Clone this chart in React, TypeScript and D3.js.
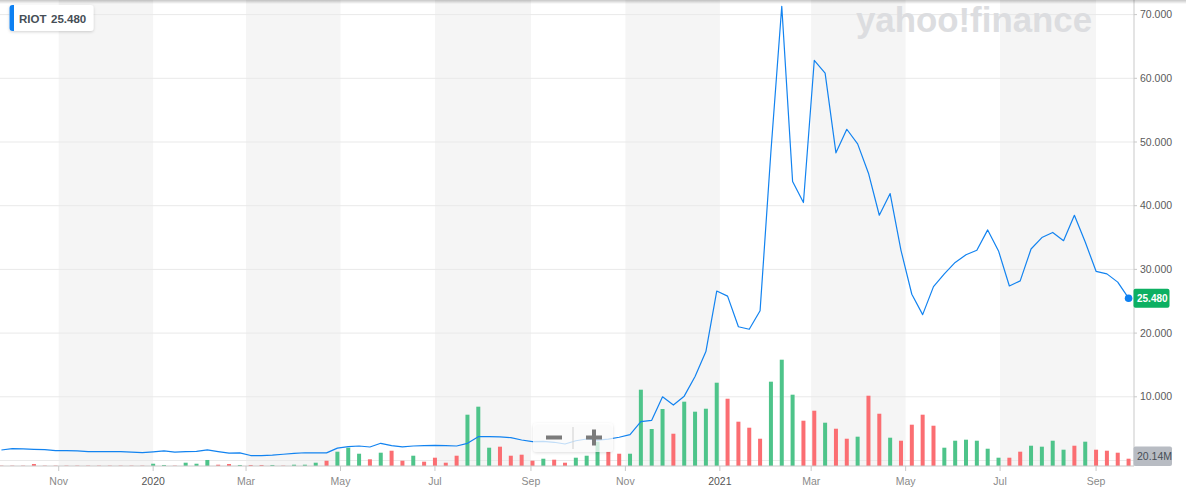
import React from "react";
import * as d3 from "d3";

const W = 1186;
const H = 497;
const plotRight = 1134;
const axisY = 466;
const font = "'Liberation Sans', Arial, sans-serif";

// weekly data, first week
const firstWeek = "2019-09-25";

// weekly close (USD)
const closes = [
  1.65, 1.85, 1.82, 1.76, 1.7, 1.56, 1.54, 1.5, 1.4, 1.38, 1.38, 1.38, 1.3, 1.24,
  1.36, 1.5, 1.3, 1.38, 1.42, 1.68, 1.4, 1.15, 1.2, 0.78, 0.76, 0.85, 0.98, 1.12,
  1.22, 1.2, 1.2, 1.95, 2.17, 2.28, 2.12, 2.7, 2.33, 2.15, 2.28, 2.33, 2.38, 2.33,
  2.28, 2.7, 3.74, 3.74, 3.7, 3.58, 3.22, 2.95, 3.0, 2.86, 2.59, 3.1, 3.38,
  3.2, 3.35, 3.65, 4.05, 6.1, 6.3, 10.0, 8.7, 10.1, 13.2, 17.1, 26.6, 25.8, 21.0,
  20.6, 23.5, 48.5, 71.3, 43.8, 40.5, 62.8, 60.8, 48.3, 52.0, 49.7, 45.1, 38.5, 41.9,
  33.0, 26.1, 22.9, 27.3, 29.3, 31.1, 32.3, 33.0, 36.2, 32.9, 27.4, 28.2, 33.2,
  35.0, 35.8, 34.5, 38.5, 34.3, 29.7, 29.3, 28.0, 25.48,
];

// weekly volume (millions)
const volumes = [
  1, 1, 1, 5.5, 1, 1, 1, 1, 1, 1, 1, 1, 1, 1,
  6.3, 2.8, 1, 9.1, 6.3, 16.6, 3.6, 5.5, 2.8, 2.8, 2.8, 2.8, 1, 3.6, 3.6, 9.1,
  14.6, 39.5, 50.5, 33.9, 18.5, 36.7, 42.2, 14.6, 28.4, 11.9, 22.9, 9.1, 28.4,
  141.6, 163.7, 50.5, 53.3, 28.4, 31.2, 14.6, 20.1, 17.4, 9.1, 22.9, 28.4,
  67.1, 39.5, 33.9, 33.9, 210.6, 102.1, 157.3, 89.1, 177.5, 149.9, 158.1, 229.9,
  185.7, 122.3, 105.7, 75.3, 232.7, 293.4, 196.8, 125, 152.6, 119.5, 102.9, 75.3,
  80.9, 194, 144.3,
  78.1, 69.8, 114, 141.6, 111.2, 50.5, 69.8, 72.6, 69.8, 47.7, 22.9, 22.9,
  39.5, 56, 53.3, 69.8, 45, 56, 67.1, 45, 42.2, 36.7, 20.14,
];

// u = up week, d = down week
const moves =
  "dddddddddddddd" +
  "uuduuuddudduduuu" +
  "duuududdudddd" +
  "uuuddddudduu" +
  "udduuuuduuuu" +
  "dddduuudduddudd" +
  "udddduuuuuudd" +
  "uuuududdddd";

const monthTicks = [
  "2019-11-01", "2020-01-01", "2020-03-01", "2020-05-01", "2020-07-01", "2020-09-01",
  "2020-11-01", "2021-01-01", "2021-03-01", "2021-05-01", "2021-07-01", "2021-09-01",
];
const monthLabels = ["Nov", "2020", "Mar", "May", "Jul", "Sep", "Nov", "2021", "Mar", "May", "Jul", "Sep"];
const priceTicks = [0, 10, 20, 30, 40, 50, 60, 70];

const App = () => {
  const start = new Date(firstWeek + "T00:00:00Z");
  const dates = closes.map((_, i) => d3.utcDay.offset(start, 7 * i));
  const ticks = monthTicks.map((s) => new Date(s + "T00:00:00Z"));

  const x = d3
    .scaleUtc()
    .domain([new Date("2019-09-24T02:00:00Z"), new Date("2021-09-25T12:00:00Z")])
    .range([0, plotRight]);
  const y = d3.scaleLinear().domain([0, 70]).range([460.5, 14.6]);
  const yVol = d3.scaleLinear().domain([0, 300]).range([axisY, axisY - 300 / 2.76]);

  const line = d3
    .line<number>()
    .x((_, i) => x(dates[i]))
    .y((d) => y(d));

  const last = closes.length - 1;
  const lastX = x(dates[last]);
  const lastY = y(closes[last]);

  return (
    <svg width={W} height={H} style={{ position: "absolute", left: 0, top: 0 }} fontFamily={font}>
      <defs>
        <linearGradient id="topShade" x1="0" y1="0" x2="0" y2="1">
          <stop offset="0" stopColor="#000" stopOpacity={0.22} />
          <stop offset="1" stopColor="#000" stopOpacity={0} />
        </linearGradient>
        <filter id="shadow" x="-20%" y="-40%" width="140%" height="180%">
          <feDropShadow dx="0" dy="1" stdDeviation="1.5" floodColor="#000" floodOpacity={0.18} />
        </filter>
      </defs>
      <rect width={W} height={H} fill="#fff" />

      {/* alternating month bands */}
      {ticks.map((t, i) =>
        i % 2 === 0 && ticks[i + 1] ? (
          <rect key={"b" + i} x={x(t)} y={0} width={x(ticks[i + 1]) - x(t)} height={axisY} fill="#f5f5f5" />
        ) : null
      )}

      {/* grid */}
      {priceTicks.map((p) => (
        <line key={"g" + p} x1={0} x2={plotRight} y1={y(p)} y2={y(p)} stroke="#e9e9e9" strokeWidth={1} />
      ))}

      {/* watermark */}
      <text x={856} y={32} fontSize={35} fontWeight={700} fill="#dcdde0" textLength={236} lengthAdjust="spacingAndGlyphs">
        yahoo!finance
      </text>

      {/* volume */}
      {volumes.map((v, i) => (
        <rect
          key={"v" + i}
          x={x(dates[i]) - 2}
          y={yVol(v)}
          width={4}
          height={axisY - yVol(v)}
          fill={moves[i] === "u" ? "#4ec48a" : "#fb6e72"}
        />
      ))}

      {/* price line */}
      <path d={line(closes) ?? ""} fill="none" stroke="#1283f0" strokeWidth={1.2} strokeLinejoin="round" />
      <circle cx={lastX} cy={lastY} r={3.8} fill="#0d80f2" />

      {/* axes */}
      <line x1={0} x2={plotRight} y1={axisY} y2={axisY} stroke="#c9c9c9" />
      <line x1={plotRight} x2={plotRight} y1={0} y2={axisY} stroke="#c9c9c9" />
      {ticks.map((t, i) => (
        <g key={"t" + i} transform={`translate(${x(t)},0)`}>
          <line y1={axisY} y2={axisY + 5} stroke="#c9c9c9" />
          <text
            y={485}
            textAnchor="middle"
            fontSize={10.5}
            fill={monthLabels[i].length === 4 ? "#555" : "#8a8a8a"}
          >
            {monthLabels[i]}
          </text>
        </g>
      ))}
      {priceTicks
        .filter((p) => p > 0)
        .map((p) => (
          <g key={"p" + p} transform={`translate(${plotRight},${y(p)})`}>
            <line x1={0} x2={3} stroke="#c9c9c9" />
            <text x={6} y={3.6} fontSize={10.5} fill="#5b5b5b">
              {d3.format(".3f")(p)}
            </text>
          </g>
        ))}

      {/* last price tag */}
      <rect x={plotRight - 0.5} y={lastY - 9.5} width={36} height={19} rx={2} fill="#0cb062" />
      <text x={plotRight + 3} y={lastY + 3.8} fontSize={10} fontWeight={700} fill="#fff">
        {d3.format(".3f")(closes[last])}
      </text>

      {/* last volume tag */}
      <rect x={plotRight - 0.5} y={446.5} width={38.5} height={19.5} rx={2} fill="#b8bcc3" />
      <text x={plotRight + 3} y={460} fontSize={10.5} fill="#464e56">
        {d3.format(".2f")(volumes[last]) + "M"}
      </text>

      {/* zoom control */}
      <g filter="url(#shadow)">
        <rect x={533} y={423} width={80} height={29} rx={4} fill="#fff" fillOpacity={0.72} />
      </g>
      <line x1={573} x2={573} y1={427} y2={449} stroke="#cfcfcf" />
      <rect x={546} y={435.5} width={16} height={4} fill="#7b7b7b" />
      <rect x={586} y={435.5} width={16} height={4} fill="#7b7b7b" />
      <rect x={592} y={429.5} width={4} height={16} fill="#7b7b7b" />

      {/* top shadow */}
      <rect x={0} y={0} width={W} height={4} fill="url(#topShade)" />

      {/* symbol legend */}
      <g filter="url(#shadow)">
        <rect x={9.5} y={5} width={84} height={26} rx={3} fill="#fff" />
      </g>
      <path d="M12.5,5 h1.5 v26 h-1.5 a3,3 0 0 1 -3,-3 v-20 a3,3 0 0 1 3,-3 z" fill="#0d80f2" />
      <text x={19} y={23} fontSize={11.5} fontWeight={600} fill="#464e56">
        RIOT
      </text>
      <text x={51} y={23} fontSize={11.5} fontWeight={600} fill="#464e56">
        {d3.format(".3f")(closes[last])}
      </text>
    </svg>
  );
};

export default App;
